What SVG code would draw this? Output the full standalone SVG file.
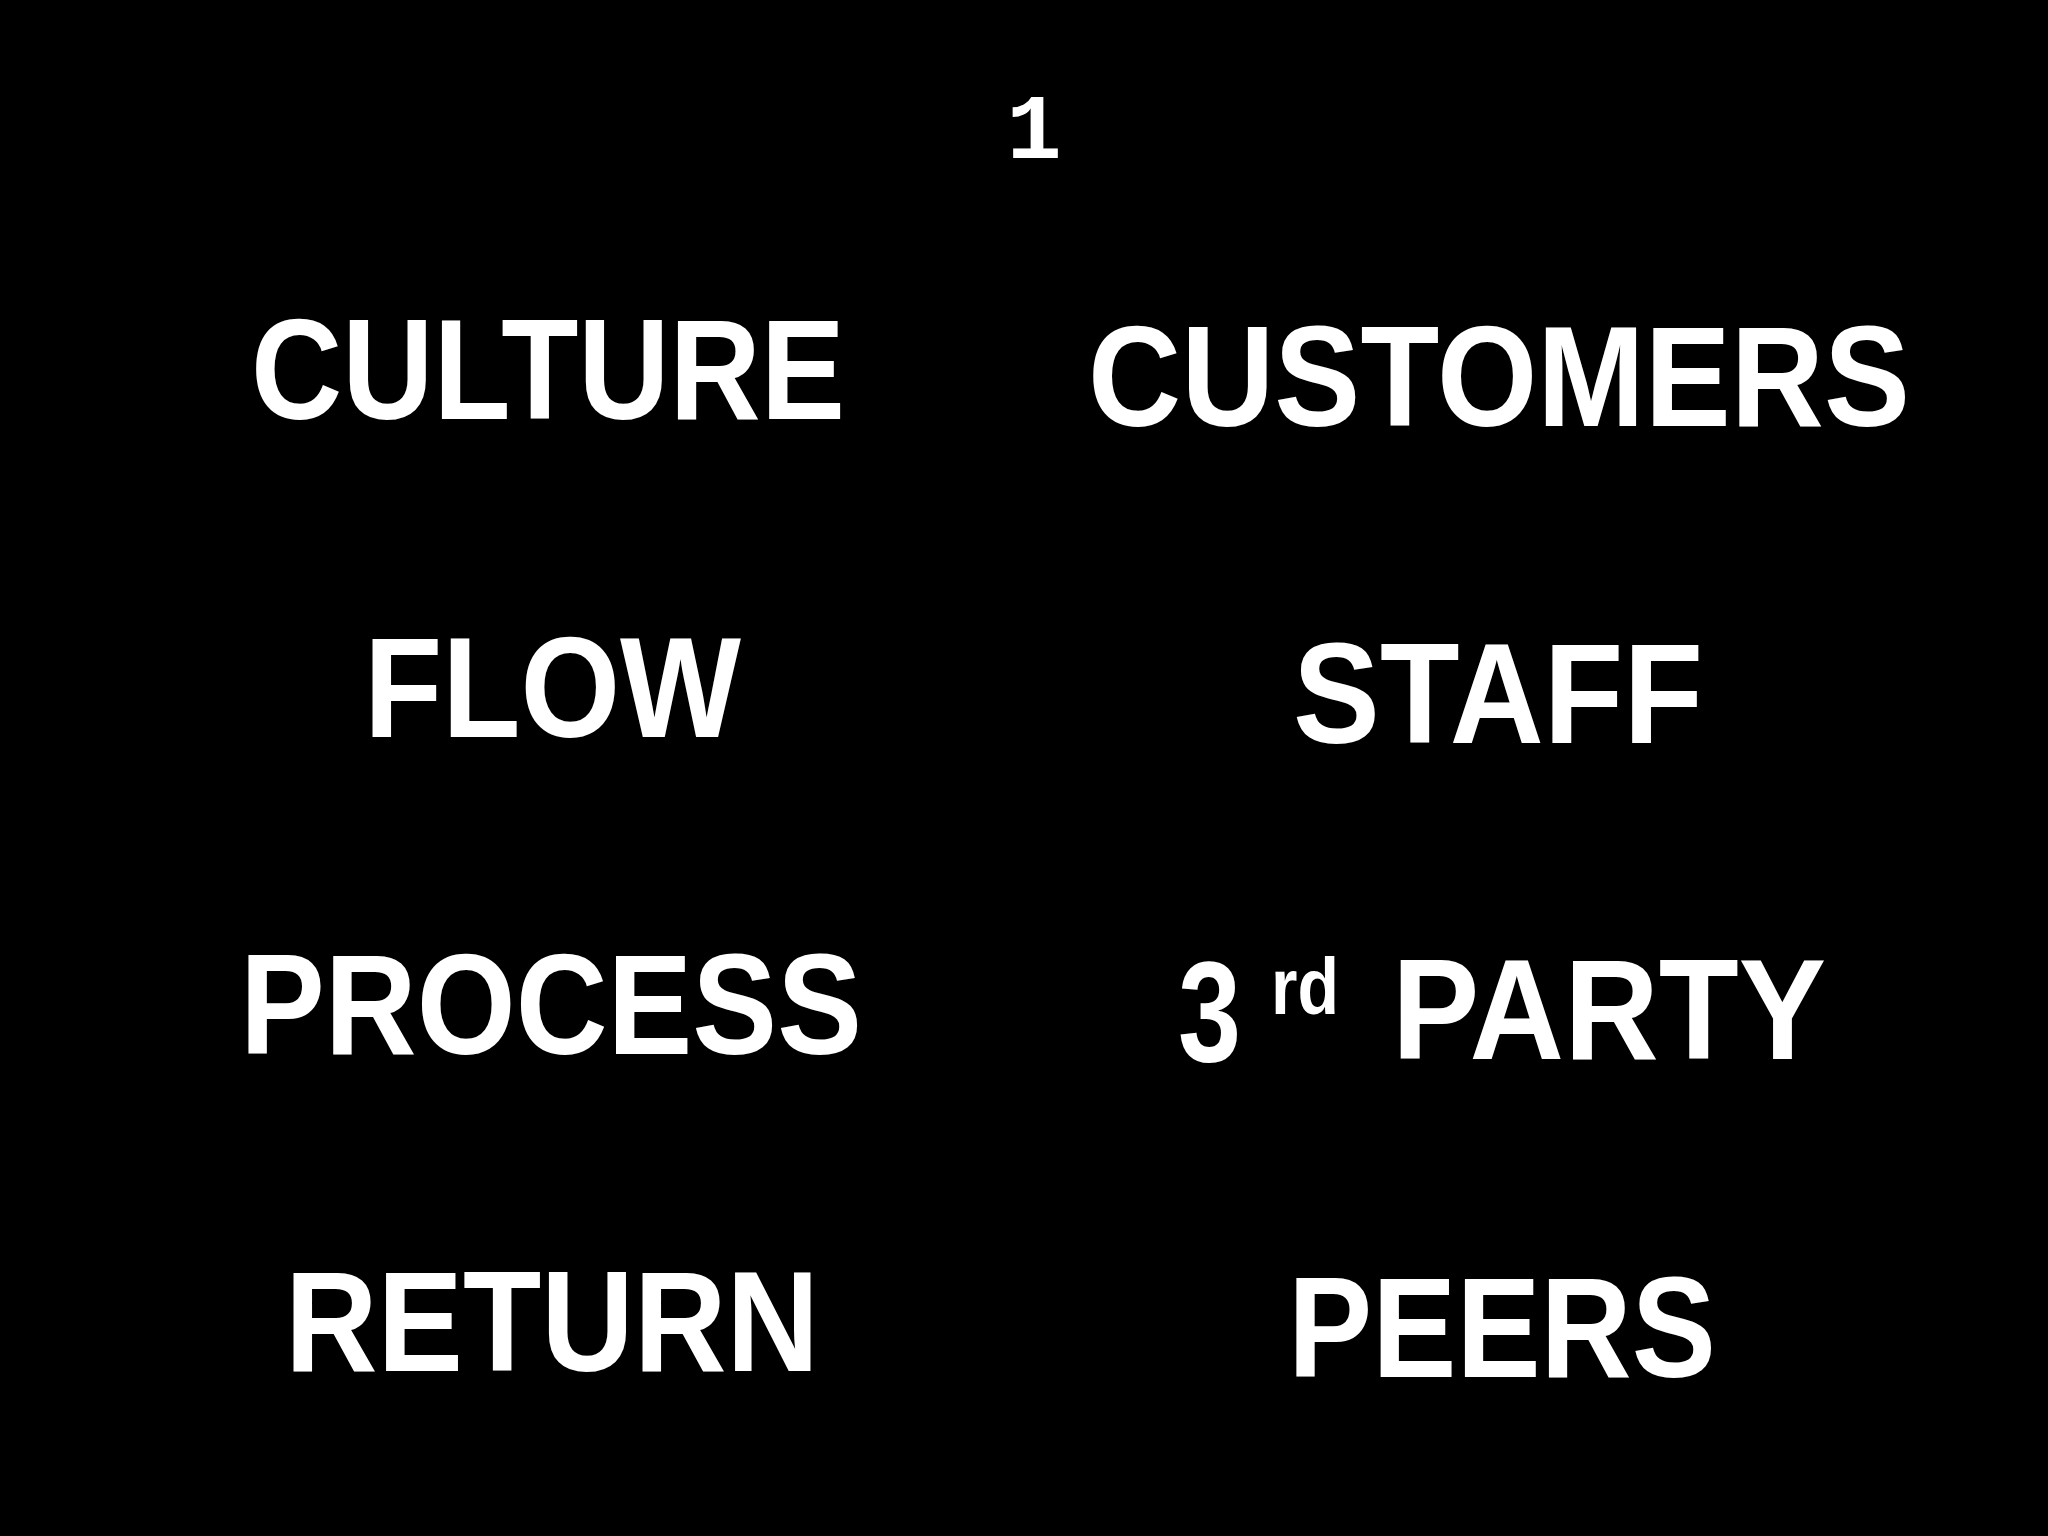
<svg xmlns="http://www.w3.org/2000/svg" width="2048" height="1536" viewBox="0 0 2048 1536">
<style>
.t{font-family:"Liberation Sans",Arial,sans-serif;font-weight:bold;font-size:142px;fill:#fff}
.n{font-family:"Liberation Mono","Courier New",monospace;font-weight:bold;font-size:92px;fill:#fff}
</style>
<rect width="2048" height="1536" fill="#000"/>
<g id="page"><text class="n" x="1034" y="158" text-anchor="middle">1</text></g>
<g id="culture"><text class="t" x="251" y="419" textLength="594" lengthAdjust="spacingAndGlyphs">CULTURE</text></g>
<g id="customers"><text class="t" x="1088" y="426" textLength="822" lengthAdjust="spacingAndGlyphs">CUSTOMERS</text></g>
<g id="flow"><text class="t" x="364" y="737" textLength="377" lengthAdjust="spacingAndGlyphs">FLOW</text></g>
<g id="staff"><text class="t" x="1293" y="743" textLength="410" lengthAdjust="spacingAndGlyphs">STAFF</text></g>
<g id="process"><text class="t" x="240" y="1054" textLength="622" lengthAdjust="spacingAndGlyphs">PROCESS</text></g>
<g id="thirdparty">
<text class="t" x="1178" y="1061" textLength="63" lengthAdjust="spacingAndGlyphs">3</text>
<text class="t" x="1271" y="1014" style="font-size:80px" textLength="68" lengthAdjust="spacingAndGlyphs">rd</text>
<text class="t" x="1392" y="1059" textLength="434" lengthAdjust="spacingAndGlyphs">PARTY</text>
</g>
<g id="return"><text class="t" x="285" y="1371" textLength="534" lengthAdjust="spacingAndGlyphs">RETURN</text></g>
<g id="peers"><text class="t" x="1288" y="1377" textLength="428" lengthAdjust="spacingAndGlyphs">PEERS</text></g>
<g id="connectors"/>
</svg>
